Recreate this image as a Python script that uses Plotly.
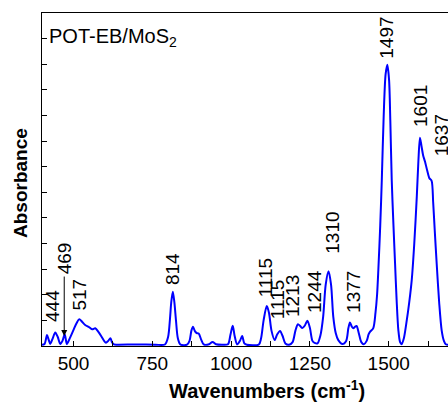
import plotly.graph_objects as go

# Spectrum (wavenumber cm-1, absorbance in arbitrary units)
wavenumbers = [400, 408, 416, 421, 426, 434, 442, 450, 458, 465, 472, 479, 488, 500, 510, 518, 527, 537,
               548, 559, 569, 579, 590, 597, 603, 610, 617, 622, 628, 640, 700, 760, 790, 800, 806, 810,
               815, 820, 825, 831, 839, 860, 868, 874, 879, 885, 891, 897, 905, 913, 930, 941, 952, 971,
               990, 998, 1005, 1011, 1019, 1028, 1035, 1042, 1050, 1088, 1095, 1103, 1113, 1120, 1128,
               1138, 1146, 1155, 1163, 1172, 1184, 1195, 1204, 1212, 1219, 1226, 1234, 1242, 1250, 1258,
               1265, 1274, 1283, 1292, 1300, 1309, 1317, 1324, 1332, 1340, 1353, 1365, 1372, 1377, 1383,
               1388, 1393, 1398, 1405, 1413, 1421, 1430, 1436, 1441, 1451, 1458, 1463, 1467, 1473, 1478,
               1484, 1490, 1495.5, 1501, 1505, 1509.5, 1515, 1520, 1525, 1530.5, 1536, 1541, 1548, 1556,
               1565, 1573, 1581, 1589, 1594, 1599, 1604, 1609, 1615, 1622, 1629, 1636, 1641, 1646, 1652,
               1660, 1668, 1675, 1681, 1690]
absorbance = [0.05, 0.08, 0.43, 0.25, 0.08, 0.3, 0.53, 0.35, 0.08, 0.2, 0.46, 0.08, 0.3, 0.63, 0.9, 1.04,
              0.95, 0.82, 0.75, 0.65, 0.69, 0.55, 0.34, 0.2, 0.13, 0.2, 0.3, 0.15, 0.06, 0.05, 0.06, 0.05,
              0.06, 0.35, 1.06, 1.7, 2.12, 1.7, 1.0, 0.3, 0.06, 0.05, 0.2, 0.6, 0.75, 0.58, 0.5, 0.49,
              0.25, 0.06, 0.07, 0.16, 0.07, 0.05, 0.07, 0.45, 0.79, 0.4, 0.06, 0.2, 0.39, 0.1, 0.05, 0.06,
              0.3, 1.0, 1.56, 1.3, 0.6, 0.23, 0.45, 0.59, 0.4, 0.1, 0.05, 0.15, 0.6, 0.85, 0.78, 0.7, 0.8,
              0.99, 0.7, 0.2, 0.12, 0.1, 0.4, 1.15, 2.4, 2.92, 2.4, 1.15, 0.5, 0.23, 0.08, 0.2, 0.7, 0.92,
              0.75, 0.69, 0.75, 0.78, 0.5, 0.15, 0.07, 0.2, 0.45, 0.56, 0.7, 1.3, 2.0, 2.97, 4.7, 6.48,
              9.0, 10.6, 10.98, 10.4, 8.8, 6.48, 4.7, 3.24, 1.8, 0.62, 0.15, 0.07, 0.3, 0.9, 1.7, 2.58,
              4.0, 5.83, 7.2, 8.13, 7.8, 7.45, 7.2, 6.85, 6.55, 6.45, 5.6, 4.5, 3.24, 1.7, 0.6, 0.2,
              0.07, 0.05]

# Peak labels: text, label x (wavenumber), label bottom (absorbance units)
peak_labels = ["444", "469", "517", "814", "1115", "1115", "1213", "1244", "1310", "1377", "1497", "1601", "1637"]
label_x = [435, 470.5, 520, 812.5, 1109, 1148, 1194.5, 1266, 1319, 1388, 1494, 1603, 1670]
label_y = [0.9, 2.77, 1.34, 2.34, 1.86, 1.02, 1.11, 1.27, 3.55, 1.27, 11.17, 8.52, 7.38]

# Arrow for the 469 label (from label bottom down to the peak)
arrow_x = 470.5
arrow_from = 2.77
arrow_to = 0.39

x_tick_vals = [500, 750, 1000, 1250, 1500]
x_tick_text = ["500", "750", "1000", "1250", "1500"]

FONT = "Arial, Liberation Sans, Helvetica, sans-serif"

fig = go.Figure()
fig.add_trace(go.Scatter(
    x=wavenumbers, y=absorbance, mode="lines",
    line=dict(color="#0000FF", width=2, shape="spline", smoothing=0.8),
    showlegend=False, hoverinfo="skip",
))

annotations = []
for t, lx, ly in zip(peak_labels, label_x, label_y):
    annotations.append(dict(
        x=lx, y=ly, xref="x", yref="y", text=t, textangle=-90,
        showarrow=False, xanchor="center", yanchor="bottom",
        font=dict(family=FONT, size=19, color="black"), borderpad=0,
    ))

annotations.append(dict(
    x=arrow_x, y=arrow_to, ax=arrow_x, ay=arrow_from, xref="x", yref="y",
    axref="x", ayref="y", text="", showarrow=True, arrowhead=2, arrowsize=1.2,
    arrowwidth=1, arrowcolor="black", standoff=0, startstandoff=0,
))

annotations.append(dict(
    x=0.013, y=0.97, xref="paper", yref="paper", text="POT-EB/MoS<sub>2</sub>",
    showarrow=False, xanchor="left", yanchor="top",
    font=dict(family=FONT, size=20, color="black"),
))

# axis titles as annotations for precise placement
annotations.append(dict(
    x=(267 - 42) / 406, y=-44 / 333, xref="paper", yref="paper",
    text="<b>Wavenumbers (cm<sup>-1</sup>)</b>", showarrow=False,
    xanchor="center", yanchor="middle",
    font=dict(family=FONT, size=20, color="black"),
))
annotations.append(dict(
    x=-22 / 406, y=(346 - 183) / 333, xref="paper", yref="paper",
    text="<b>Absorbance</b>", textangle=-90, showarrow=False,
    xanchor="center", yanchor="middle",
    font=dict(family=FONT, size=19, color="black"),
))

fig.update_layout(
    width=448, height=402,
    margin=dict(l=42, r=0, t=13, b=56),
    paper_bgcolor="white", plot_bgcolor="white",
    annotations=annotations,
    font=dict(family=FONT, size=19, color="black"),
)
fig.update_xaxes(
    range=[400, 1688], showline=True, linecolor="black", linewidth=1.3, mirror=True,
    showgrid=False, zeroline=False,
    tickmode="array", tickvals=x_tick_vals, ticktext=x_tick_text,
    ticks="inside", ticklen=5, tickwidth=1, tickcolor="black",
    minor=dict(dtick=125, tick0=375, ticks="inside", ticklen=5, tickwidth=1, tickcolor="black", showgrid=False),
    tickfont=dict(family=FONT, size=19, color="black"),
)
fig.update_yaxes(
    range=[0, 13], showline=True, linecolor="black", linewidth=1.3, mirror=False,
    showgrid=False, zeroline=False, showticklabels=False,
    tickmode="linear", tick0=0, dtick=1,
    ticks="inside", ticklen=5, tickwidth=1, tickcolor="black",
)

fig.write_html(
    "out.html",
    config={"displayModeBar": False},
    post_script="document.body.style.margin='0px';document.body.style.overflow='hidden';",
)
